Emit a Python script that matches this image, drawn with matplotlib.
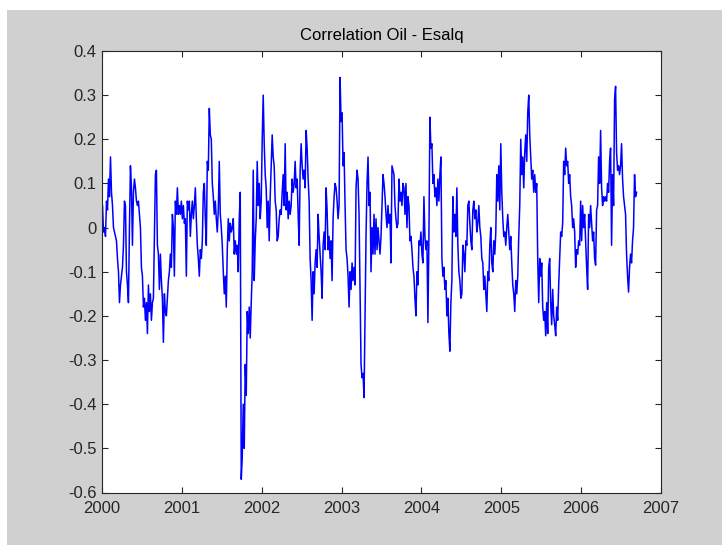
import numpy as np
import matplotlib
matplotlib.use('Agg')
import matplotlib.pyplot as plt
from matplotlib.patches import Rectangle

plt.rcParams['font.family'] = ['Liberation Sans', 'DejaVu Sans']
plt.rcParams['axes.unicode_minus'] = False

# rolling correlation, one value every 1/80 year
corr_2000 = [0.05, -0.01, 0.0, -0.02, 0.06, 0.04, 0.11, 0.07, 0.16, 0.08,
             0.05, 0.0, -0.01, -0.02, -0.03, -0.07, -0.10, -0.17, -0.13, -0.11,
             -0.09, -0.04, 0.06, 0.05, -0.10, -0.13, -0.17, 0.0, 0.14, 0.09,
             -0.04, 0.08, 0.11, 0.09, 0.06, 0.05, 0.06, 0.03, 0.0, -0.09,
             -0.11, -0.18, -0.16, -0.21, -0.17, -0.24, -0.13, -0.19, -0.15, -0.21,
             -0.17, -0.16, -0.02, 0.12, 0.13, -0.04, -0.06, -0.14, -0.06, -0.12,
             -0.16, -0.26, -0.15, -0.19, -0.20, -0.16, -0.12, -0.10, -0.06, -0.09,
             0.03, 0.0, -0.11, 0.06, 0.03, 0.09, 0.03, 0.05, 0.03, 0.06]
corr_2001 = [0.02, 0.05, 0.01, 0.02, -0.11, 0.06, 0.04, 0.06, -0.02, 0.03,
             0.06, 0.02, 0.05, 0.09, 0.02, -0.04, -0.07, -0.11, -0.05, -0.07,
             -0.03, 0.08, 0.10, 0.02, -0.04, 0.15, 0.13, 0.27, 0.21, 0.20,
             0.10, 0.07, 0.03, 0.06, 0.02, -0.01, 0.04, 0.15, 0.03, 0.0,
             -0.04, -0.10, -0.15, -0.11, -0.18, -0.05, 0.02, -0.03, 0.01, -0.01,
             0.0, 0.02, -0.06, -0.03, -0.06, -0.04, -0.10, 0.02, 0.08, -0.57,
             -0.52, -0.40, -0.50, -0.31, -0.38, -0.19, -0.24, -0.18, -0.25, -0.17,
             -0.10, 0.13, -0.12, -0.03, 0.02, 0.15, 0.05, 0.10, 0.02, 0.06]
corr_2002 = [0.20, 0.30, 0.19, 0.12, 0.09, 0.0, 0.06, -0.03, 0.07, 0.14,
             0.21, 0.16, 0.14, 0.06, 0.04, -0.03, -0.02, 0.02, 0.04, 0.03,
             0.08, 0.12, 0.05, 0.19, 0.04, 0.08, 0.02, 0.06, 0.03, 0.05,
             0.11, 0.08, 0.10, 0.15, 0.09, 0.11, 0.03, -0.04, 0.13, 0.19,
             0.14, 0.11, 0.13, 0.09, 0.22, 0.18, 0.11, 0.06, -0.07, -0.12,
             -0.21, -0.10, -0.15, -0.08, -0.05, -0.09, 0.03, -0.02, -0.06, -0.10,
             -0.16, -0.04, -0.01, -0.05, 0.09, 0.04, -0.05, -0.02, -0.07, -0.03,
             -0.12, 0.02, 0.07, 0.10, 0.09, 0.06, 0.02, 0.05, 0.34, 0.24]
corr_2003 = [0.26, 0.14, 0.17, 0.05, -0.05, -0.07, -0.11, -0.18, -0.10, -0.14,
             -0.08, -0.12, -0.09, -0.13, 0.09, 0.13, 0.11, 0.03, -0.14, -0.31,
             -0.34, -0.33, -0.385, -0.20, -0.02, 0.10, 0.16, 0.05, 0.08, -0.10,
             0.0, -0.06, 0.03, -0.06, 0.02, -0.05, 0.0, -0.03, -0.06, -0.02,
             0.05, 0.12, 0.10, 0.07, 0.03, 0.0, 0.05, 0.01, 0.03, -0.08,
             0.14, 0.13, 0.12, 0.05, 0.02, 0.0, 0.01, 0.11, 0.06, 0.08,
             0.05, 0.10, 0.09, 0.03, 0.10, 0.0, 0.07, 0.05, -0.03, -0.02,
             -0.05, -0.09, -0.11, -0.16, -0.20, -0.10, -0.13, -0.03, -0.04, -0.01]
corr_2004 = [-0.06, -0.08, 0.07, -0.02, -0.05, -0.03, -0.215, -0.02, 0.25, 0.18,
             0.19, 0.10, 0.12, 0.07, 0.09, 0.05, 0.11, 0.06, 0.12, 0.16,
             -0.07, -0.11, -0.09, -0.14, -0.12, -0.20, -0.16, -0.24, -0.28, -0.17,
             -0.12, 0.07, -0.01, 0.03, -0.02, 0.09, -0.04, -0.10, -0.12, -0.16,
             -0.15, -0.04, -0.06, -0.10, -0.03, -0.04, 0.05, 0.06, 0.01, -0.03,
             -0.05, 0.04, 0.06, 0.02, 0.04, -0.01, 0.01, 0.05, 0.0, -0.02,
             -0.07, -0.08, -0.14, -0.11, -0.15, -0.19, -0.10, -0.12, -0.04, 0.0,
             -0.08, -0.10, -0.03, -0.06, -0.01, 0.12, 0.06, 0.14, 0.04, 0.19]
corr_2005 = [0.08, 0.02, -0.02, -0.01, -0.04, 0.0, 0.03, -0.01, -0.05, -0.02,
             -0.08, -0.13, -0.15, -0.19, -0.12, -0.15, -0.11, -0.02, 0.05, 0.20,
             0.12, 0.16, 0.09, 0.17, 0.21, 0.15, 0.26, 0.30, 0.21, 0.16,
             0.11, 0.13, 0.08, 0.12, 0.08, 0.10, -0.07, -0.17, -0.07, -0.11,
             -0.08, -0.18, -0.21, -0.19, -0.245, -0.17, -0.24, -0.09, -0.07, -0.17,
             -0.22, -0.14, -0.20, -0.22, -0.245, -0.18, -0.21, -0.13, -0.07, -0.01,
             -0.02, 0.01, 0.15, 0.12, 0.18, 0.14, 0.15, 0.10, 0.12, 0.07,
             0.05, 0.0, 0.02, -0.01, -0.09, -0.05, -0.06, -0.03, -0.04, 0.06]
corr_2006 = [-0.03, 0.05, 0.0, 0.03, -0.03, -0.09, -0.14, 0.03, 0.0, 0.05,
             0.01, -0.03, -0.01, -0.07, -0.085, 0.04, 0.05, 0.16, 0.10, 0.22,
             0.09, 0.05, 0.07, 0.06, 0.07, 0.06, 0.10, 0.08, 0.15, 0.18,
             -0.04, 0.12, 0.05, 0.29, 0.32, 0.17, 0.13, 0.14, 0.12, 0.14,
             0.19, 0.11, 0.07, 0.05, 0.03, -0.06, -0.11, -0.146, -0.09, -0.06,
             -0.08, -0.03, 0.0, 0.12, 0.07, 0.08]

years = [2000, 2001, 2002, 2003, 2004, 2005, 2006, 2007]
yticks = [-0.6, -0.5, -0.4, -0.3, -0.2, -0.1, 0, 0.1, 0.2, 0.3, 0.4]

corr = np.concatenate([corr_2000, corr_2001, corr_2002, corr_2003,
                       corr_2004, corr_2005, corr_2006])
step = 1 / 80
t = 2000 + (np.arange(len(corr)) + 0.5) * step

W, H = 722, 545
fig = plt.figure(figsize=(W / 100, H / 100), dpi=100, facecolor='white')
# grey figure panel, leaving a thin white margin top and left
fig.patches.append(Rectangle((7 / W, 0), 1, 1 - 10 / H, transform=fig.transFigure,
                             facecolor='#d0d0d0', edgecolor='none', zorder=-10))

ax = fig.add_axes([102 / W, 1 - 492.5 / H, 559 / W, 441.5 / H])
ax.plot(t, corr, color=(0, 0, 1), lw=1.1)

ax.set_xlim(2000, 2007)
ax.set_ylim(-0.6, 0.4)
ax.set_xticks(years)
ax.set_xticklabels([str(y) for y in years])
ax.set_yticks(yticks)
ax.set_yticklabels(['%g' % v for v in yticks])
ax.tick_params(direction='in', length=4, width=0.8, top=True, right=True,
               labelsize=12, colors='#262626', pad=4)
ax.tick_params(axis='x', pad=6)
for s in ax.spines.values():
    s.set_color('#262626')
    s.set_linewidth(0.8)
ax.set_title('Correlation Oil - Esalq', fontsize=12, pad=8)

fig.savefig('out.png', dpi=100, facecolor=fig.get_facecolor())
